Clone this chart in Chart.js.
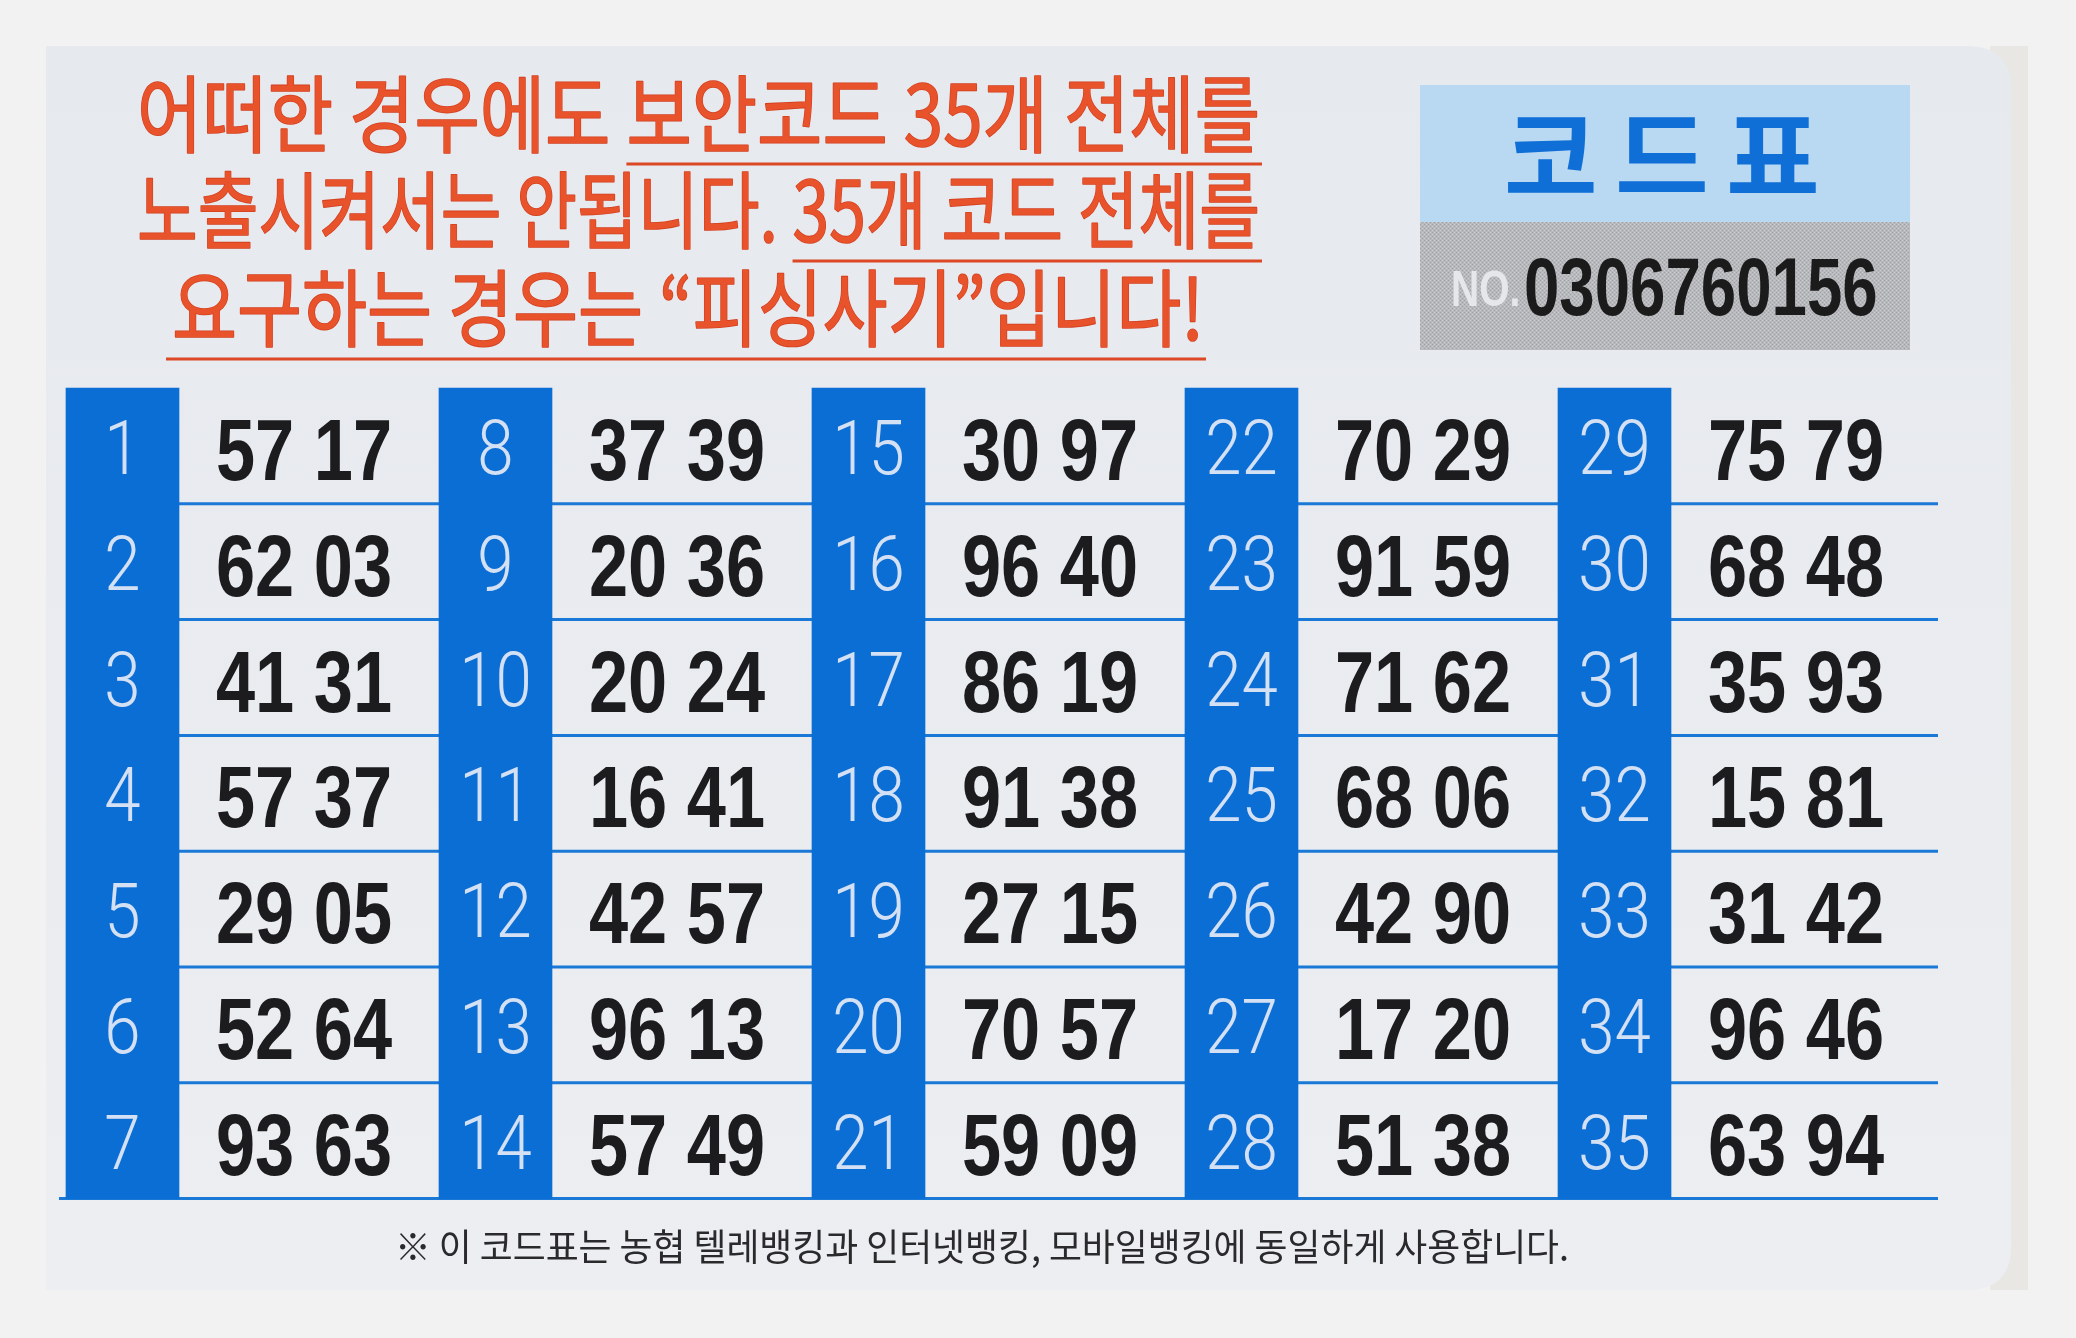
<!DOCTYPE html>
<html>
<head>
<meta charset="utf-8">
<script src="https://cdn.jsdelivr.net/npm/chart.js@4.4.1/dist/chart.umd.min.js"></script>
<style>
  html, body { margin: 0; padding: 0; background: #f2f2f2; overflow: hidden; }
  canvas { display: block; }
</style>
</head>
<body>
<canvas id="codeCard" width="2076" height="1338"></canvas>
<script>
const INDEX = ['1','2','3','4','5','6','7','8','9','10','11','12','13','14','15','16','17','18',
  '19','20','21','22','23','24','25','26','27','28','29','30','31','32','33','34','35'];
const CODES = [
  '57 17','62 03','41 31','57 37','29 05','52 64','93 63',
  '37 39','20 36','20 24','16 41','42 57','96 13','57 49',
  '30 97','96 40','86 19','91 38','27 15','70 57','59 09',
  '70 29','91 59','71 62','68 06','42 90','17 20','51 38',
  '75 79','68 48','35 93','15 81','31 42','96 46','63 94'
];
const TITLE_PLAIN = ['어떠한 경우에도 ', '노출시켜서는 안됩니다. ', ''];
const TITLE_UNDER = ['보안코드 35개 전체를', '35개 코드 전체를', '요구하는 경우는 “피싱사기”입니다!'];
const HEADING = ['코', '드', '표'];
const SERIAL_PREFIX = 'NO.';
const SERIAL = '0306760156';
const FOOTNOTE = '※ 이 코드표는 농협 텔레뱅킹과 인터넷뱅킹, 모바일뱅킹에 동일하게 사용합니다.';

// ---- layout (in card pixels, mapped through the scales) ----
const W = 2076, H = 1338;
const ROWS = 7, GROUPS = 5;
const GX0 = 66, STRIDE = 373, COLW = 113, CELLW = 260;
const TOP = 388, ROWH = 115.8;
const LINE_END = 1938;
const BLUE = '#0b6ed4';
const LINE_BLUE = '#1a79d6';
const RED = '#e8532c';

const groupLeft = g => GX0 + g * STRIDE;
const rowMid = r => TOP + (r + 0.5) * ROWH;

const barData = [];
for (let g = 0; g < GROUPS; g++) {
  barData.push({ x: groupLeft(g) + COLW / 2, y: [TOP, TOP + ROWS * ROWH] });
}

const indexPoints = INDEX.map((_, i) => ({
  x: groupLeft(Math.floor(i / ROWS)) + COLW / 2,
  y: rowMid(i % ROWS)
}));
const codePoints = CODES.map((_, i) => ({
  x: groupLeft(Math.floor(i / ROWS)) + COLW + CELLW / 2 - 5,
  y: rowMid(i % ROWS)
}));

const rowLines = [];
for (let r = 1; r <= ROWS; r++) {
  const y = TOP + r * ROWH;
  rowLines.push({
    type: 'line',
    data: [{ x: r === ROWS ? 59 : GX0 + COLW, y: y }, { x: LINE_END, y: y }],
    borderColor: LINE_BLUE,
    borderWidth: 3,
    pointRadius: 0,
    order: 3
  });
}

// draw text squeezed horizontally around (x, y)
function squeezed(ctx, text, x, y, font, color, sx, align, stroke) {
  ctx.save();
  ctx.font = font;
  ctx.fillStyle = color;
  ctx.textAlign = align || 'center';
  ctx.textBaseline = 'alphabetic';
  ctx.translate(x, y);
  ctx.scale(sx, 1);
  if (stroke) {
    ctx.strokeStyle = stroke;
    ctx.lineWidth = 1.6;
    ctx.lineJoin = 'round';
    ctx.strokeText(text, 0, 0);
  }
  ctx.fillText(text, 0, 0);
  ctx.restore();
}

function grayPattern(ctx) {
  const c = document.createElement('canvas');
  c.width = 4; c.height = 4;
  const p = c.getContext('2d');
  p.fillStyle = '#b8b9bc';
  p.fillRect(0, 0, 4, 4);
  p.fillStyle = '#9fa0a4';
  p.fillRect(0, 0, 1, 1); p.fillRect(2, 2, 1, 1);
  p.fillStyle = '#cacbce';
  p.fillRect(2, 0, 1, 1); p.fillRect(0, 2, 1, 1);
  return ctx.createPattern(c, 'repeat');
}

const cardDecor = {
  id: 'cardDecor',
  beforeDatasetsDraw(chart) {
    const ctx = chart.ctx;
    const xs = chart.scales.x, ys = chart.scales.y;
    const px = v => xs.getPixelForValue(v);
    const py = v => ys.getPixelForValue(v);

    ctx.save();
    ctx.fillStyle = '#f2f2f2';
    ctx.fillRect(0, 0, chart.width, chart.height);

    // shadow strip at the right edge, then the card
    ctx.fillStyle = '#e9e7e3';
    ctx.fillRect(px(1990), py(46), px(2028) - px(1990), py(1290) - py(46));
    const L = px(46), T = py(46), R = px(2011), B = py(1290), rad = 44;
    const grad = ctx.createLinearGradient(0, T, 0, B);
    grad.addColorStop(0, '#e6e9ee');
    grad.addColorStop(1, '#eceef1');
    ctx.fillStyle = grad;
    ctx.beginPath();
    ctx.moveTo(L, T);
    ctx.lineTo(R - rad, T);
    ctx.quadraticCurveTo(R, T, R, T + rad);
    ctx.lineTo(R, B - rad);
    ctx.quadraticCurveTo(R, B, R - rad, B);
    ctx.lineTo(L, B);
    ctx.closePath();
    ctx.fill();

    // warning title
    const titleFont = '400 84px "Noto Sans CJK KR", sans-serif';
    const lineBox = [[137, 1260, 146, 164], [137, 1260, 242, 261], [172, 1204, 340, 359]];
    ctx.font = titleFont;
    for (let i = 0; i < TITLE_PLAIN.length; i++) {
      const [x0, x1, base, ul] = lineBox[i];
      const wPlain = ctx.measureText(TITLE_PLAIN[i]).width;
      const wAll = ctx.measureText(TITLE_PLAIN[i] + TITLE_UNDER[i]).width;
      const sx = (px(x1) - px(x0)) / wAll;
      squeezed(ctx, TITLE_PLAIN[i] + TITLE_UNDER[i], px(x0), py(base), titleFont, RED, sx, 'left', '#d3401f');
      ctx.strokeStyle = '#dc4826';
      ctx.lineWidth = 3;
      ctx.beginPath();
      const uStart = i === 2 ? px(x0) - 6 : px(x0) + wPlain * sx;
      ctx.moveTo(uStart, py(ul));
      ctx.lineTo(px(x0) + wAll * sx + 2, py(ul));
      ctx.stroke();
      ctx.font = titleFont;
    }

    // code box
    ctx.fillStyle = '#b9d8f2';
    ctx.fillRect(px(1420), py(85), px(1910) - px(1420), py(222) - py(85));
    ctx.fillStyle = grayPattern(ctx);
    ctx.fillRect(px(1420), py(222), px(1910) - px(1420), py(350) - py(222));
    HEADING.forEach((ch, i) => {
      squeezed(ctx, ch, px(1551 + i * 111), py(194), 'bold 100px "Noto Sans CJK KR", sans-serif', '#0f6fd7', 1.02);
    });
    squeezed(ctx, SERIAL_PREFIX, px(1451), py(306), 'bold 50px "Liberation Sans", sans-serif', '#e6e7ea', 0.78, 'left');
    squeezed(ctx, SERIAL, px(1524), py(315), 'bold 81px "Liberation Sans", Arial, sans-serif', '#1b1b1c', 0.785, 'left');

    // footnote
    const footFont = '400 37px "Noto Sans CJK KR", sans-serif';
    ctx.font = footFont;
    const fw = ctx.measureText(FOOTNOTE).width;
    squeezed(ctx, FOOTNOTE, px(982), py(1261), footFont, '#2a2a2c', (px(1569) - px(395)) / fw);
    ctx.restore();
  },
  afterDatasetsDraw(chart) {
    const ctx = chart.ctx;
    chart.data.datasets.forEach((ds, di) => {
      if (!ds.cellText) return;
      const meta = chart.getDatasetMeta(di);
      meta.data.forEach((pt, i) => {
        squeezed(ctx, ds.cellText[i], pt.x, pt.y + ds.textDrop, ds.textFont, ds.textColor, ds.textSqueeze);
      });
    });
  }
};

const config = {
  type: 'bar',
  data: {
    datasets: [
      {
        type: 'scatter',
        data: indexPoints,
        pointRadius: 0,
        cellText: INDEX,
        textFont: '300 76px Roboto, "Liberation Sans", sans-serif',
        textColor: '#d4e0f4',
        textSqueeze: 0.86,
        textDrop: 28,
        order: 0
      },
      {
        type: 'scatter',
        data: codePoints,
        pointRadius: 0,
        cellText: CODES,
        textFont: 'bold 88px "Liberation Sans", Arial, sans-serif',
        textColor: '#1c1c1e',
        textSqueeze: 0.8,
        textDrop: 34,
        order: 0
      },
      {
        type: 'bar',
        data: barData,
        backgroundColor: BLUE,
        barThickness: COLW,
        borderWidth: 0,
        order: 1
      },
      ...rowLines
    ]
  },
  options: {
    responsive: false,
    animation: false,
    events: [],
    layout: { padding: 0 },
    plugins: { legend: { display: false }, tooltip: { enabled: false } },
    scales: {
      x: { type: 'linear', min: 0, max: W, display: false, offset: false },
      y: { type: 'linear', min: 0, max: H, reverse: true, display: false, offset: false }
    }
  },
  plugins: [cardDecor]
};

const myChart = new Chart(document.getElementById('codeCard'), config);
</script>
</body>
</html>
